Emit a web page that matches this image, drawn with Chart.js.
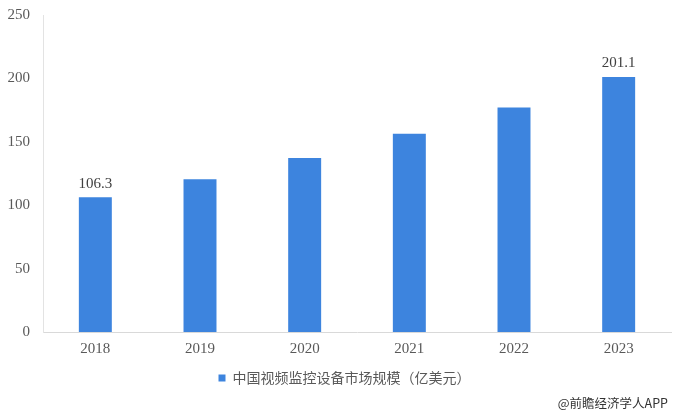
<!DOCTYPE html>
<html>
<head>
<meta charset="utf-8">
<script src="https://cdn.jsdelivr.net/npm/chart.js@4"></script>
<style>
  html, body { margin: 0; padding: 0; background: #ffffff; }
  #wrap { position: relative; width: 674px; height: 414px; }
  #c { display: block; }
  #wm { position: absolute; right: 6px; top: 395px; font-family: "Noto Sans CJK SC", "Noto Sans", sans-serif; font-size: 12.5px; color: #333333; line-height: 16px; white-space: nowrap; }
</style>
</head>
<body>
<div id="wrap">
  <canvas id="c" width="674" height="414"></canvas>
  <div id="wm">@前瞻经济学人APP</div>
</div>
<script>
const years = ['2018', '2019', '2020', '2021', '2022', '2023'];
const marketSize = [106.3, 120.5, 137.3, 156.3, 177.0, 201.1];
const shownLabels = ['106.3', '', '', '', '', '201.1'];
const seriesName = '中国视频监控设备市场规模（亿美元）';
const yTicks = [0, 50, 100, 150, 200, 250];

const valueLabelPlugin = {
  id: 'valueLabels',
  afterDatasetsDraw(chart) {
    const ctx = chart.ctx;
    const meta = chart.getDatasetMeta(0);
    ctx.save();
    ctx.font = '15px "Liberation Serif", "Times New Roman", serif';
    ctx.fillStyle = '#404040';
    ctx.textAlign = 'center';
    ctx.textBaseline = 'bottom';
    meta.data.forEach((bar, i) => {
      const t = shownLabels[i];
      if (t) ctx.fillText(t, bar.x, bar.y - 6);
    });
    ctx.restore();
  }
};

const legendShiftPlugin = {
  id: 'legendShift',
  afterLayout(chart) {
    if (chart.legend) {
      chart.legend.left += 9;
      chart.legend.right += 9;
    }
  }
};

new Chart(document.getElementById('c'), {
  type: 'bar',
  data: {
    labels: years,
    datasets: [{
      label: seriesName,
      data: marketSize,
      backgroundColor: '#3D84DE',
      borderWidth: 0,
      categoryPercentage: 1.0,
      barPercentage: 0.315
    }]
  },
  options: {
    responsive: false,
    animation: false,
    devicePixelRatio: 1,
    layout: { padding: { top: 15, right: 3, left: 0, bottom: 19 } },
    plugins: {
      legend: {
        position: 'bottom',
        labels: {
          boxWidth: 7,
          boxHeight: 7,
          padding: 14,
          color: '#595959',
          font: { family: '"Noto Sans CJK SC", "Noto Sans", sans-serif', size: 14 }
        }
      },
      tooltip: { enabled: false }
    },
    scales: {
      x: {
        afterFit(scale) { scale.height = 25; },
        grid: { display: false, drawTicks: false },
        border: { display: true, color: '#d9d9d9' },
        ticks: {
          color: '#595959',
          padding: 8,
          font: { family: '"Liberation Serif", "Times New Roman", serif', size: 15 }
        }
      },
      y: {
        min: 0,
        max: 250,
        afterFit(scale) { scale.width = 43; },
        afterBuildTicks(scale) { scale.ticks = yTicks.map(v => ({ value: v })); },
        grid: { display: false, drawTicks: true, tickLength: 9 },
        border: { display: true, color: '#e3e3e3' },
        ticks: {
          color: '#595959',
          padding: 4,
          font: { family: '"Liberation Serif", "Times New Roman", serif', size: 15 }
        }
      }
    }
  },
  plugins: [valueLabelPlugin, legendShiftPlugin]
});
</script>
</body>
</html>
